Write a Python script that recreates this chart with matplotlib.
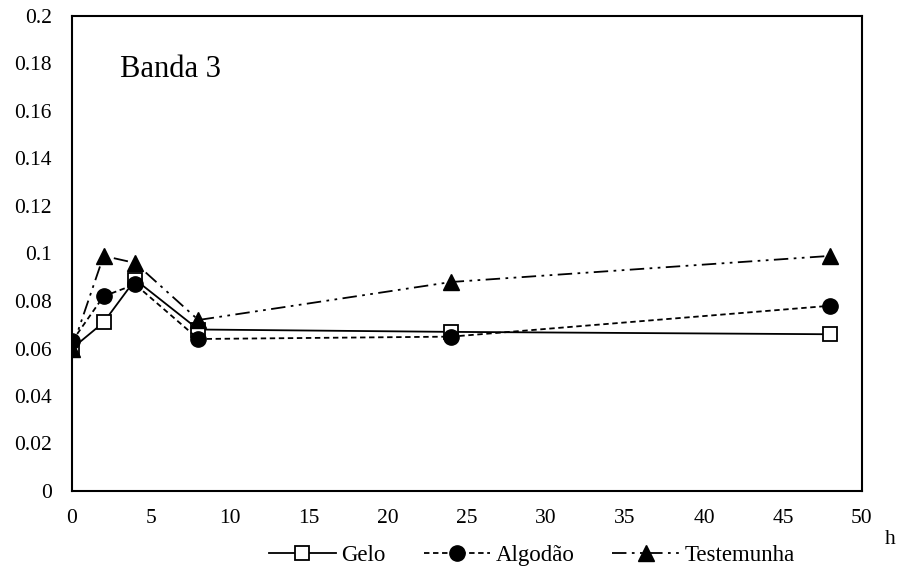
import matplotlib.pyplot as plt

plt.rcParams['font.family'] = ['Liberation Serif', 'DejaVu Serif']

hours = [0, 2, 4, 8, 24, 48]
gelo = [0.060, 0.071, 0.089, 0.068, 0.067, 0.066]
algodao = [0.063, 0.082, 0.087, 0.064, 0.065, 0.078]
testemunha = [0.060, 0.099, 0.096, 0.072, 0.088, 0.099]

fig = plt.figure(figsize=(9.03, 5.71), dpi=100)
ax = fig.add_axes([72 / 903, 1 - 491 / 571, 790 / 903, 475 / 571])

ax.plot(hours, gelo, color='black', lw=1.3, ls='-', marker='s', ms=10,
        mfc='white', mec='black', mew=1.3, label='Gelo')
ax.plot(hours, algodao, color='black', lw=1.3, ls=(0, (3, 2)), marker='o', ms=11,
        mfc='black', mec='black', label='Algodão')
ax.plot(hours, testemunha, color='black', lw=1.3, ls=(0, (8, 3, 1.5, 3, 1.5, 3)),
        marker='^', ms=11, mfc='black', mec='black', label='Testemunha')

ax.set_xlim(0, 50)
ax.set_ylim(0, 0.2)
ax.set_xticks(range(0, 51, 5))
ax.set_yticks([0, 0.02, 0.04, 0.06, 0.08, 0.1, 0.12, 0.14, 0.16, 0.18, 0.2])
ax.set_yticklabels(['0', '0.02', '0.04', '0.06', '0.08', '0.1', '0.12', '0.14',
                    '0.16', '0.18', '0.2'])
ax.tick_params(length=0, labelsize=15.5)
ax.tick_params(axis='x', pad=13)
ax.tick_params(axis='y', pad=14.5)
for s in ax.spines.values():
    s.set_linewidth(1.5)

ax.text(0.061, 0.888, 'Banda 3', transform=ax.transAxes, fontsize=22, va='center')
fig.text(890 / 903, 1 - 540 / 571, 'h', fontsize=15.5, ha='center', va='center')

fig.legend(loc='center', bbox_to_anchor=(532 / 903, 1 - 555 / 571), ncol=3,
           frameon=False, fontsize=16.5, handlelength=2.9, columnspacing=1.65,
           handletextpad=0.25)

fig.savefig('out.png', dpi=100)
